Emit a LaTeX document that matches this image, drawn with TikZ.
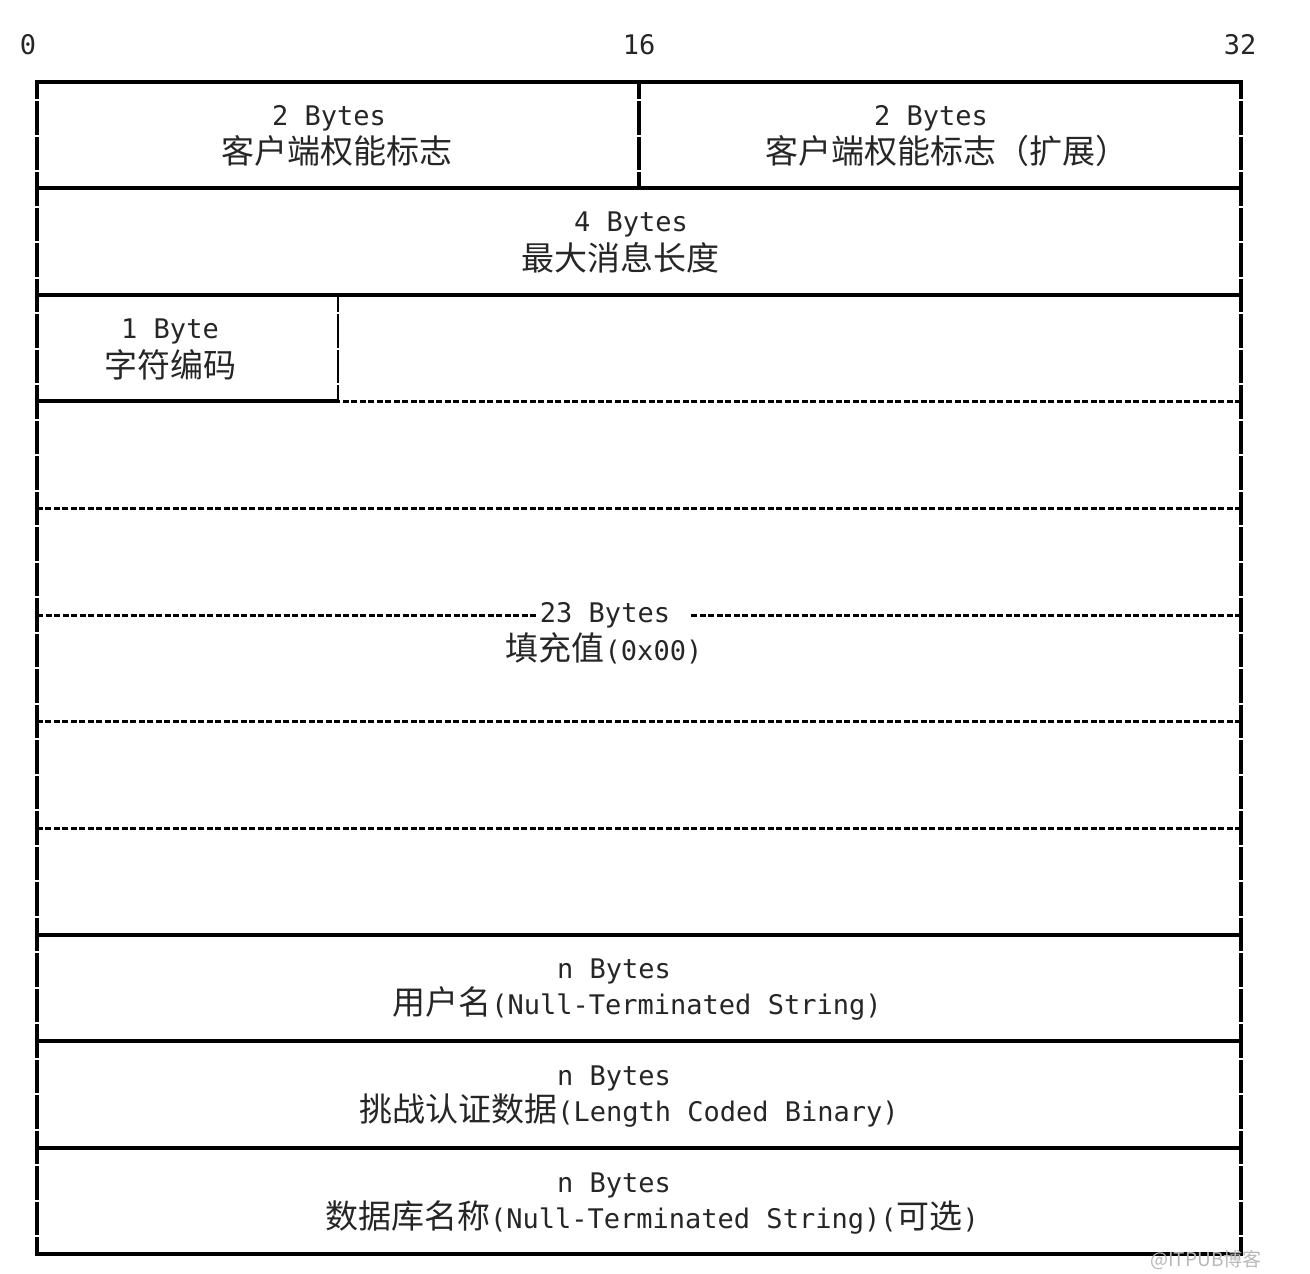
\documentclass[tikz,border=0pt]{standalone}
\usepackage{fontspec}
\setmonofont{DejaVu Sans Mono}
\newfontfamily\cjk{Noto Sans CJK SC}
\newcommand{\asc}[1]{{\ttfamily\fontsize{27}{27}\selectfont #1}}

\begin{document}
\begin{tikzpicture}[x=1pt,y=-1pt,
    wall/.style={line width=3.6pt,dash pattern=on 33.5pt off 2pt,dash phase=16.5pt},
    rule/.style={line width=3.6pt},
    dots/.style={line width=3pt,dash pattern=on 6pt off 2.5pt},
    bytes/.style={anchor=base,inner sep=0pt,text=black!85,font=\ttfamily\fontsize{27}{27}\selectfont},
    field/.style={anchor=base,inner sep=0pt,text=black!85,font=\cjk\fontsize{33}{33}\selectfont}]
  \useasboundingbox (0,0) rectangle (1310,1274);

  \node[bytes] (Bit0)  at (28,54)   {0};
  \node[bytes] (Bit16) at (639,54)  {16};
  \node[bytes] (Bit32) at (1240,54) {32};

  \node[bytes] (CapsBytes)    at (329,125)  {2 Bytes};
  \node[field] (Caps)         at (337,163)  {客户端权能标志};
  \node[bytes] (CapsExtBytes) at (931,125)  {2 Bytes};
  \node[field] (CapsExt)      at (947,163)  {客户端权能标志（扩展）};
  \node[bytes] (MaxLenBytes)  at (631,231)  {4 Bytes};
  \node[field] (MaxLen)       at (620,270)  {最大消息长度};
  \node[bytes] (CharsetBytes) at (170,338)  {1 Byte};
  \node[field] (Charset)      at (170,377)  {字符编码};
  \node[bytes] (FillBytes)    at (605,622)  {23 Bytes};
  \node[field] (Fill)         at (604,660)  {填充值\asc{(0x00)}};
  \node[bytes] (UserBytes)    at (614,978)  {n Bytes};
  \node[field] (User)         at (637,1014) {用户名\asc{(Null-Terminated String)}};
  \node[bytes] (AuthBytes)    at (614,1085) {n Bytes};
  \node[field] (Auth)         at (629,1121) {挑战认证数据\asc{(Length Coded Binary)}};
  \node[bytes] (DbBytes)      at (614,1192) {n Bytes};
  \node[field] (Db)           at (652,1228) {数据库名称\asc{(Null-Terminated String)(}可选\asc{)}};

  % rows
  \draw[rule] (35.2,82) -- (1242.8,82);
  \draw[rule] (37,188) -- (1241,188);
  \draw[rule] (37,295) -- (1241,295);
  \draw[rule] (37,401) -- (338,401);
  \draw[dots] (1241,401) -- (338,401);
  \draw[dots] (1241,508) -- (37,508);
  \draw[dots] (37,615) -- ([xshift=-3pt]FillBytes.west |- 0,615);
  \draw[dots] (1241,615) -- ([xshift=20pt]FillBytes.east |- 0,615);
  \draw[dots] (1241,721) -- (37,721);
  \draw[dots] (1241,828) -- (37,828);
  \draw[rule] (37,935) -- (1241,935);
  \draw[rule] (37,1041) -- (1241,1041);
  \draw[rule] (37,1148) -- (1241,1148);
  \draw[rule] (35.2,1254) -- (1242.8,1254);

  % columns
  \draw[wall] (37,82) -- (37,1255.8);
  \draw[wall] (1241,82) -- (1241,1255.8);
  \draw[wall] (639,82) -- (639,188);
  \draw[wall,line width=2.4pt] (338,295) -- (338,401);

  \node[anchor=base,inner sep=0pt,text=black!28,font=\cjk\fontsize{19}{19}\selectfont] (Mark) at (1206,1266) {@ITPUB博客};
\end{tikzpicture}
\end{document}
